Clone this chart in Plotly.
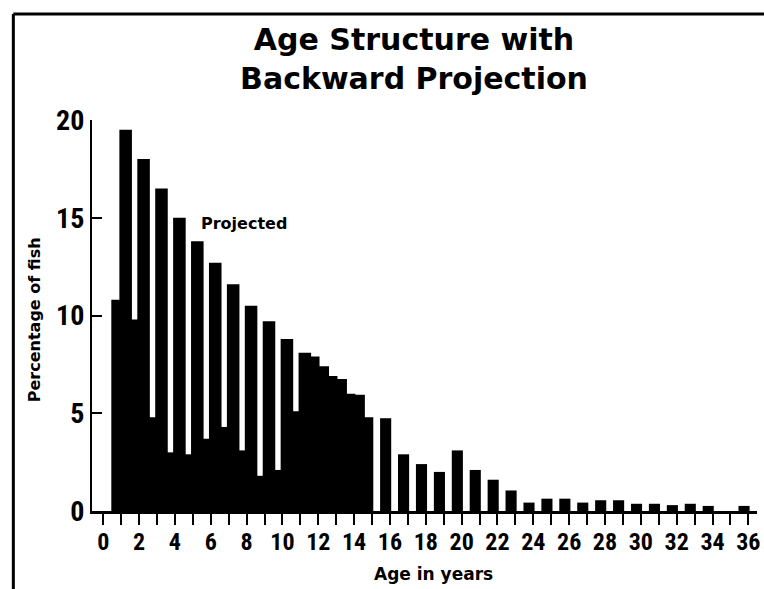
import plotly.graph_objects as go

# ---- data ----
obs_ages = list(range(1, 37))
obs_pct = [10.8, 9.8, 4.8, 3.0, 2.9, 3.7, 4.3, 3.1, 1.8, 2.1, 5.1, 7.9, 6.9, 6.0, 4.8,
           4.75, 2.9, 2.4, 2.0, 3.1, 2.1, 1.6, 1.05, 0.43, 0.63, 0.63, 0.43, 0.55, 0.55,
           0.37, 0.37, 0.3, 0.37, 0.26, 0.0, 0.26]
proj_ages = list(range(1, 15))
proj_pct = [19.5, 18.0, 16.5, 15.0, 13.8, 12.7, 11.6, 10.5, 9.7, 8.8, 8.1, 7.4, 6.75, 5.95]
x_tickvals = list(range(0, 37, 2))
x_ticktext = [str(v) for v in x_tickvals]
y_tickvals = [0, 5, 10, 15, 20]

W, H = 764, 589
L, R, T, B = 92, 4, 120, 78
PW, PH = W - L - R, H - T - B

NARROW = "Roboto Condensed, DejaVu Sans Condensed, sans-serif"
BOLD = "DejaVu Sans, Arial, sans-serif"

fig = go.Figure()
fig.add_trace(go.Bar(x=obs_ages, y=obs_pct, width=0.62, offset=-0.55,
                     marker=dict(color="black", line=dict(width=0)), name="Observed"))
fig.add_trace(go.Bar(x=proj_ages, y=proj_pct, width=0.7, offset=-0.1,
                     marker=dict(color="black", line=dict(width=0)), name="Projected"))

def px_x(p):
    return (p - L) / PW

def px_y(p):
    return (H - B - p) / PH

fig.add_annotation(x=7.87, y=14.7, xref="x", yref="y", text="Projected", showarrow=False,
                   font=dict(family=BOLD, size=16, color="black", weight="bold"))
fig.add_annotation(x=px_x(435.5), y=px_y(574), xref="paper", yref="paper", text="Age in years",
                   showarrow=False, xanchor="center", yanchor="middle",
                   font=dict(family=BOLD, size=17, color="black", weight="bold"))
fig.add_annotation(x=px_x(34), y=px_y(320), xref="paper", yref="paper", text="Percentage of fish",
                   showarrow=False, xanchor="center", yanchor="middle", textangle=-90,
                   font=dict(family=BOLD, size=16, color="black", weight="bold"))

fig.update_layout(
    width=W, height=H,
    margin=dict(l=L, r=R, t=T, b=B),
    paper_bgcolor="white", plot_bgcolor="white",
    showlegend=False, barmode="overlay",
    title=dict(text="Age Structure with<br>Backward Projection", x=414 / W, xanchor="center",
               y=1 - 50 / H, yanchor="middle", xref="container", yref="container",
               font=dict(family=BOLD, size=30, color="black", weight="bold")),
    xaxis=dict(range=[-(103.3 - L) / 18.0, (W - R - 103.3) / 18.0],
               showgrid=False, zeroline=False, showline=True, linecolor="black", linewidth=3,
               tickmode="array", tickvals=x_tickvals, ticktext=x_ticktext,
               ticks="outside", ticklen=11, tickwidth=2, tickcolor="black",
               ticklabelstandoff=-4,
               minor=dict(dtick=1, tick0=0, ticks="outside", ticklen=11, tickwidth=2, tickcolor="black"),
               tickfont=dict(family=NARROW, size=24, color="black", weight="bold")),
    yaxis=dict(range=[0, 20], showgrid=False, zeroline=False, showline=True,
               linecolor="black", linewidth=2,
               tickmode="array", tickvals=y_tickvals,
               ticks="inside", ticklen=10, tickwidth=2, tickcolor="black",
               tickfont=dict(family=NARROW, size=28, color="black", weight="bold")),
    shapes=[
        dict(type="line", xref="paper", yref="paper", x0=px_x(13), x1=px_x(W + 5),
             y0=px_y(14), y1=px_y(14), line=dict(color="black", width=3)),
        dict(type="line", xref="paper", yref="paper", x0=px_x(13), x1=px_x(13),
             y0=px_y(14), y1=px_y(H + 5), line=dict(color="black", width=3)),
    ],
)

fig.write_html("out.html", config={"displayModeBar": False},
               post_script="document.body.style.margin='0';")
